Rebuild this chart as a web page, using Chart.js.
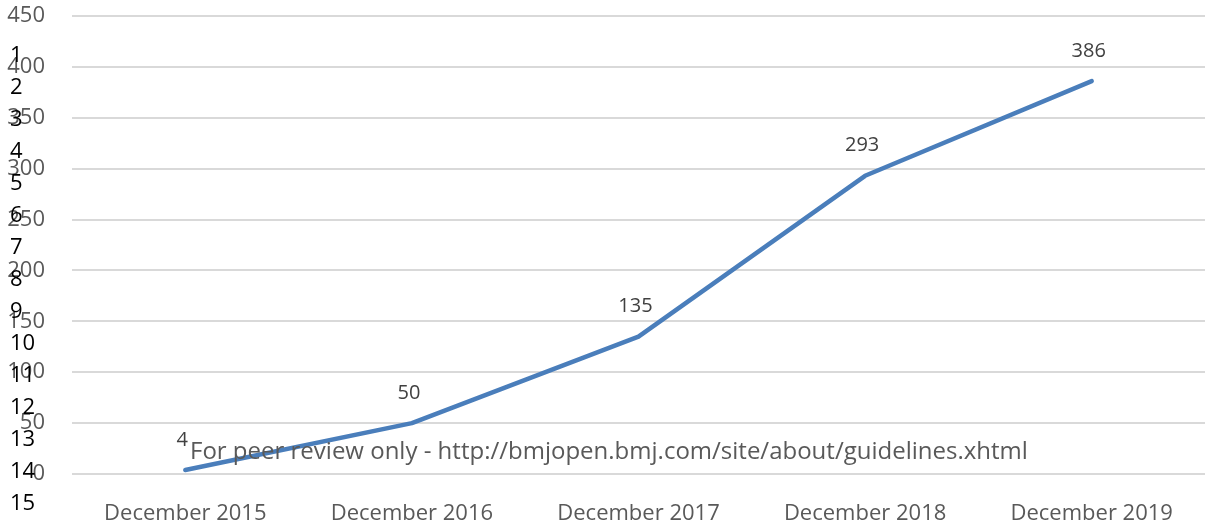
<!DOCTYPE html>
<html>
<head>
<meta charset="utf-8">
<script src="https://cdn.jsdelivr.net/npm/chart.js@4"></script>
<style>
    html, body { margin: 0; padding: 0; background: #ffffff; }
    #wrap { width: 1205px; height: 521px; }
</style>
</head>
<body>
<div id="wrap"><canvas id="growthChart" width="1205" height="521"></canvas></div>
<script>
// Cumulative count per year
var categories = ['December 2015', 'December 2016', 'December 2017', 'December 2018', 'December 2019'];
var counts = [4, 50, 135, 293, 386];
var yTicks = [0, 50, 100, 150, 200, 250, 300, 350, 400, 450];
var lineNumbers = ['1', '2', '3', '4', '5', '6', '7', '8', '9', '10', '11', '12', '13', '14', '15'];
var footerText = 'For peer review only - http://bmjopen.bmj.com/site/about/guidelines.xhtml';

var FONT = '"Open Sans", "DejaVu Sans", sans-serif';

// value labels above each point
var valueLabels = {
    id: 'valueLabels',
    afterDatasetsDraw: function (chart) {
        var ctx = chart.ctx;
        var meta = chart.getDatasetMeta(0);
        ctx.save();
        ctx.font = '20px ' + FONT;
        ctx.fillStyle = '#404040';
        ctx.textAlign = 'center';
        ctx.textBaseline = 'middle';
        meta.data.forEach(function (pt, i) {
            ctx.fillText(String(counts[i]), pt.x - 3, pt.y - 30);
        });
        ctx.restore();
    }
};

// manuscript line numbers and footer stamp
var pageMarks = {
    id: 'pageMarks',
    afterDraw: function (chart) {
        var ctx = chart.ctx;
        ctx.save();
        ctx.font = '22px ' + FONT;
        ctx.fillStyle = '#000000';
        ctx.textAlign = 'left';
        ctx.textBaseline = 'middle';
        lineNumbers.forEach(function (n, i) {
            ctx.fillText(n, 10, 56 + i * 32);
        });
        ctx.font = '24px ' + FONT;
        ctx.fillStyle = '#595959';
        ctx.textBaseline = 'alphabetic';
        ctx.fillText(footerText, 190, 459);
        ctx.restore();
    }
};

new Chart(document.getElementById('growthChart'), {
    type: 'line',
    data: {
        labels: categories,
        datasets: [{
            data: counts,
            borderColor: '#4a7ebb',
            borderWidth: 4.5,
            borderCapStyle: 'round',
            borderJoinStyle: 'round',
            pointRadius: 0,
            tension: 0,
            fill: false
        }]
    },
    options: {
        responsive: false,
        animation: false,
        layout: { padding: { top: 16, right: 0, left: 0, bottom: 0 } },
        plugins: {
            legend: { display: false },
            tooltip: { enabled: false }
        },
        scales: {
            x: {
                offset: true,
                grid: { display: false },
                border: { display: false },
                ticks: {
                    color: '#595959',
                    font: { family: FONT, size: 22 },
                    padding: 19,
                    maxRotation: 0
                },
                afterFit: function (scale) { scale.height = 47; }
            },
            y: {
                min: 0,
                max: 450,
                afterBuildTicks: function (scale) {
                    scale.ticks = yTicks.map(function (v) { return { value: v }; });
                },
                grid: { color: '#d9d9d9', lineWidth: 2, drawTicks: false },
                border: { display: false },
                ticks: {
                    color: '#595959',
                    font: { family: FONT, size: 22 },
                    padding: 27
                },
                afterFit: function (scale) {
                    scale.width = 72;
                    scale.paddingTop = 0;
                    scale.paddingBottom = 0;
                }
            }
        }
    },
    plugins: [valueLabels, pageMarks]
});
</script>
</body>
</html>
